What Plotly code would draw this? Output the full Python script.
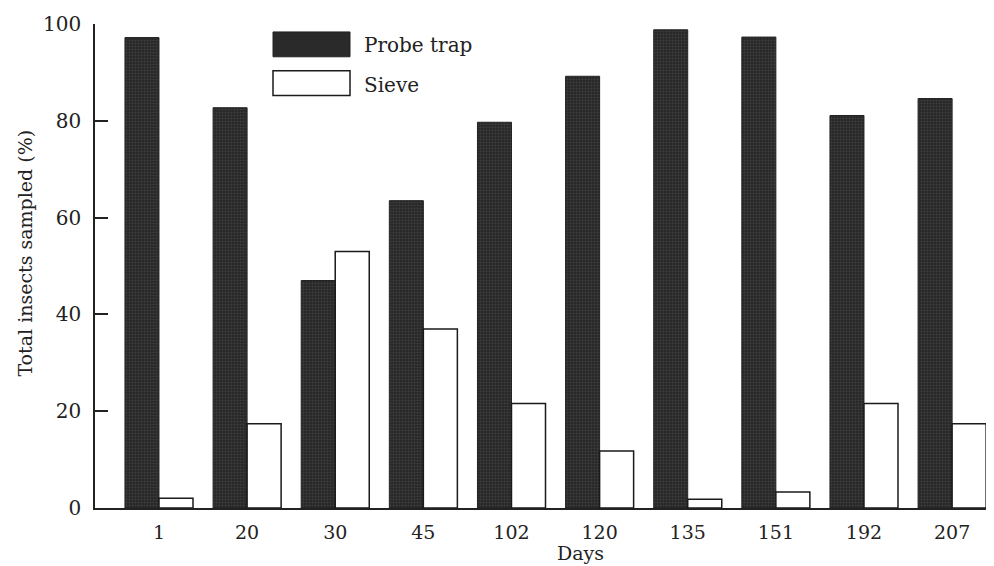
import plotly.graph_objects as go

days = ["1", "20", "30", "45", "102", "120", "135", "151", "192", "207"]
probe_trap = [97.2, 82.7, 47.0, 63.5, 79.7, 89.2, 98.8, 97.3, 81.1, 84.6]
sieve = [2.0, 17.4, 53.0, 37.0, 21.6, 11.8, 1.8, 3.3, 21.6, 17.4]
y_ticks = [0, 20, 40, 60, 80, 100]

FONT = "DejaVu Serif"
TXT = "#222222"

fig = go.Figure()
fig.add_trace(go.Bar(
    x=days, y=probe_trap, name="Probe trap",
    marker=dict(color="#2a2a2a", line=dict(color="#222222", width=1),
                pattern=dict(shape=".", size=3, solidity=0.4, fgcolor="#555555", bgcolor="#262626")),
    showlegend=False,
))
fig.add_trace(go.Bar(
    x=days, y=sieve, name="Sieve",
    marker=dict(color="white", line=dict(color="#1a1a1a", width=1.5)),
    showlegend=False,
))

# page body has an 8px margin: figure is placed at (8, 8) on screen
# plot area on screen: x 95..990, y 21..508
def px(sx):
    return (sx - 95) / 895

def py(sy):
    return (508 - sy) / 487

# Legend drawn as boxes + text to match the large swatches
fig.add_shape(type="rect", xref="paper", yref="paper",
              x0=px(273), x1=px(350), y0=py(54), y1=py(29),
              fillcolor="#2a2a2a", line=dict(color="#222222", width=1))
fig.add_shape(type="rect", xref="paper", yref="paper",
              x0=px(273), x1=px(350), y0=py(93), y1=py(68),
              fillcolor="white", line=dict(color="#1a1a1a", width=1.5))
fig.add_annotation(text="Probe trap", xref="paper", yref="paper",
                   x=px(362), y=py(42), xanchor="left", yanchor="middle",
                   showarrow=False, font=dict(family=FONT, size=20, color=TXT))
fig.add_annotation(text="Sieve", xref="paper", yref="paper",
                   x=px(362), y=py(82), xanchor="left", yanchor="middle",
                   showarrow=False, font=dict(family=FONT, size=20, color=TXT))
fig.add_annotation(text="Days", xref="paper", yref="paper",
                   x=px(580), y=py(566), xanchor="center", yanchor="bottom",
                   showarrow=False, font=dict(family=FONT, size=19, color=TXT))
fig.add_annotation(text="Total insects sampled (%)", xref="paper", yref="paper",
                   x=px(25), y=py(252), xanchor="center", yanchor="middle",
                   textangle=-90, showarrow=False,
                   font=dict(family=FONT, size=19, color=TXT))

fig.update_layout(
    width=986, height=558,
    margin=dict(l=87, r=4, t=13, b=58),
    paper_bgcolor="white", plot_bgcolor="white",
    barmode="group", bargap=0.228, bargroupgap=0,
    font=dict(family=FONT, size=20, color=TXT),
)
fig.update_xaxes(
    type="category", range=[-0.726, 9.43],
    showline=True, linecolor="#222", linewidth=1.5,
    showgrid=False, ticks="", ticklabelstandoff=6,
    tickfont=dict(family=FONT, size=19, color=TXT),
)
fig.update_yaxes(
    range=[0, 100], tickvals=y_ticks,
    showline=True, linecolor="#222", linewidth=1.5,
    showgrid=False, zeroline=False,
    ticks="inside", ticklen=13, tickwidth=1.5, tickcolor="#222",
    ticklabelstandoff=8,
    tickfont=dict(family=FONT, size=20, color=TXT),
)

fig.write_html("out.html")
